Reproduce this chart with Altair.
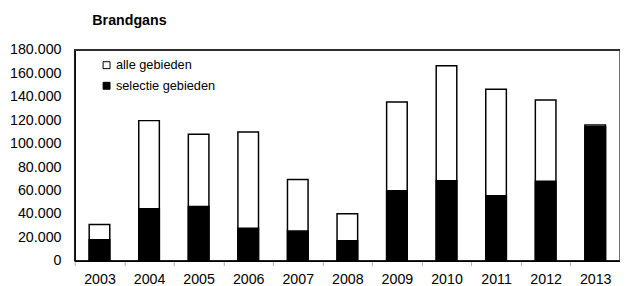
import altair as alt
import pandas as pd

years = ["2003", "2004", "2005", "2006", "2007", "2008", "2009", "2010", "2011", "2012", "2013"]
alle = [31000, 119700, 108000, 110000, 69500, 40200, 135500, 166500, 146500, 137200, 116000]
selectie = [18000, 44500, 46300, 27800, 25400, 17200, 59800, 68400, 55500, 68000, 114400]
series = ["alle gebieden", "selectie gebieden"]
y_ticks = [0, 20000, 40000, 60000, 80000, 100000, 120000, 140000, 160000, 180000]
y_max = 180000

rows = []
for y, v in zip(years, alle):
    rows.append({"jaar": y, "serie": series[0], "aantal": v})
for y, v in zip(years, selectie):
    rows.append({"jaar": y, "serie": series[1], "aantal": v})
df = pd.DataFrame(rows)

FONT = "Liberation Sans"

y_scale = alt.Scale(domain=[0, y_max], nice=False)
y_axis = alt.Axis(values=y_ticks, format=",.0f", labelExpr="replace(datum.label, /,/g, '.')",
                  grid=False, ticks=False, domainColor="black", domainWidth=1.5,
                  labelOverlap=False, labelBound=False, labelFlush=False,
                  labelFont=FONT, labelFontSize=14.5, labelColor="black",
                  labelPadding=14, title=None)

bars = alt.Chart(df).mark_bar(stroke="black", strokeWidth=1.5, size=21).encode(
    x=alt.X("jaar:O", sort=years, title=None,
            scale=alt.Scale(paddingInner=0, paddingOuter=0),
            axis=alt.Axis(labelAngle=0, tickBand="extent", ticks=True, tickSize=5,
                          tickColor="#b0b0b0", domainColor="black", domainWidth=1.5,
                          labelFont=FONT, labelFontSize=14.5, labelColor="black",
                          labelPadding=7)),
    y=alt.Y("aantal:Q", stack=None, title=None, scale=y_scale, axis=y_axis),
    color=alt.Color("serie:N", sort=series,
                    scale=alt.Scale(domain=series, range=["white", "black"]),
                    legend=alt.Legend(title=None, orient="none", legendX=26, legendY=9,
                                      symbolType="square", symbolSize=50,
                                      symbolStrokeColor="black", symbolStrokeWidth=1,
                                      labelFont=FONT, labelFontSize=13, labelColor="black",
                                      labelOffset=3, rowPadding=7)),
    order=alt.Order("serie:N", sort="ascending"),
)

top_line = alt.Chart(df).mark_rule(color="#303030", strokeWidth=2).encode(
    y=alt.YDatum(y_max, type="quantitative", scale=y_scale, axis=y_axis),
)

chart = alt.layer(bars, top_line).properties(
    width=556, height=215,
    padding={"left": 68, "top": 40, "right": 0, "bottom": 30},
    autosize=alt.AutoSizeParams(type="none"),
    title=alt.TitleParams("Brandgans", anchor="start", frame="group", dx=18, offset=14,
                          font=FONT, fontSize=14.5, fontWeight="bold", color="black"),
).configure_view(stroke="#404040", strokeWidth=1.5)

chart.save("out.html", embed_options={"renderer": "svg", "actions": False})
